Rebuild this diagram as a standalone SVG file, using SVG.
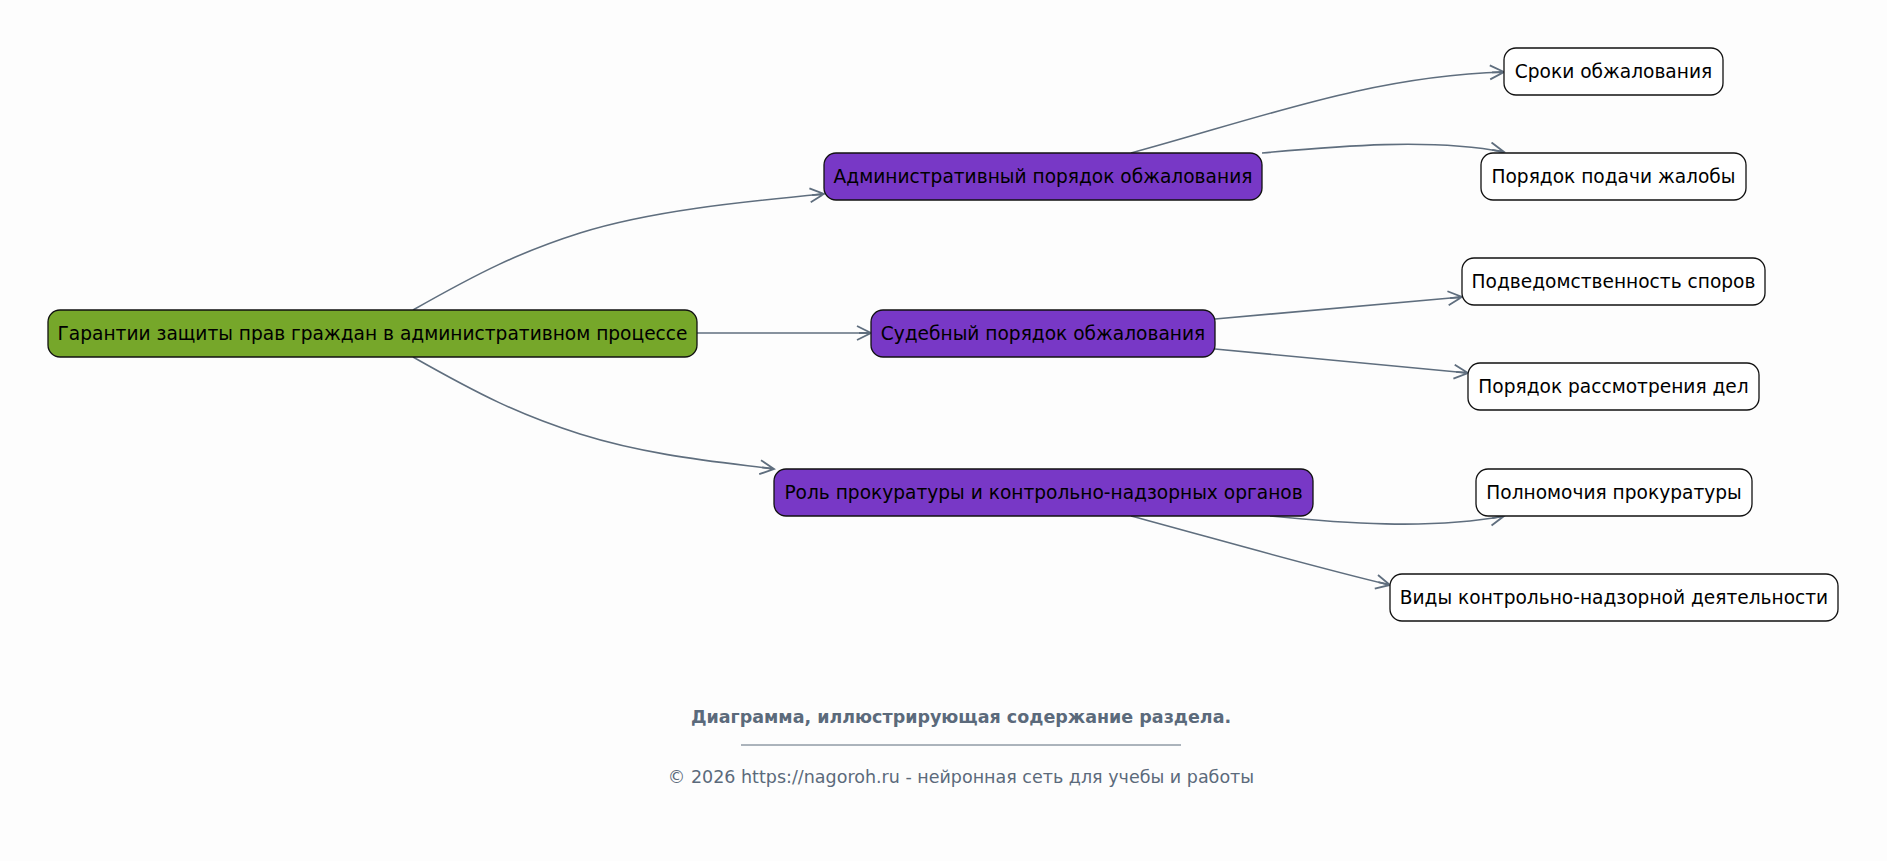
<svg xmlns="http://www.w3.org/2000/svg" width="1887" height="861" viewBox="0 0 1887 861">
<style>
.bg{fill:#fdfdfd}
.n rect{stroke:#111;stroke-width:1.3}
.root rect{fill:#76a72a}
.mid rect{fill:#7838c6}
.leaf rect{fill:#ffffff}
.n text{font-family:"DejaVu Sans",sans-serif;font-size:18.6px;fill:#000;text-anchor:middle;dominant-baseline:central}
.e path{fill:none;stroke:#5f6e7e;stroke-width:1.6;marker-end:url(#arr)}
.ft{font-family:"DejaVu Sans",sans-serif;fill:#5b6a7b;text-anchor:middle}
</style>
<defs>
<marker id="arr" markerWidth="20" markerHeight="20" refX="16" refY="8" orient="auto" markerUnits="userSpaceOnUse">
<path d="M2,1 L16,8 L2,15 M16,8 L4,8" fill="none" stroke="#5f6e7e" stroke-width="1.8"/>
</marker>
</defs>
<rect class="bg" x="0" y="0" width="1887" height="861"/>
<g id="connectors" class="e">
<path d="M413,310 C480,272 520,252 580,233 C650,211 740,202 824,194"/>
<path d="M697,333 L871,333"/>
<path d="M413,357 C480,395 520,415 580,434 C650,456 720,462 774,469"/>
<path d="M1131,153 C1260,118 1370,76 1504,72"/>
<path d="M1262,153 C1340,146 1430,138 1504,152"/>
<path d="M1215,319 L1462,297"/>
<path d="M1215,349 L1468,373"/>
<path d="M1270,516 C1340,523 1430,530 1504,516"/>
<path d="M1131,516 C1220,540 1310,566 1390,585"/>
</g>
<g id="root" class="n root"><rect x="48" y="310" width="649" height="47" rx="12"/><text x="372.5" y="333.5">Гарантии защиты прав граждан в административном процессе</text></g>
<g id="admin" class="n mid"><rect x="824" y="153" width="438" height="47" rx="12"/><text x="1043" y="176.5">Административный порядок обжалования</text></g>
<g id="court" class="n mid"><rect x="871" y="310" width="344" height="47" rx="12"/><text x="1043" y="333.5">Судебный порядок обжалования</text></g>
<g id="prosecutor" class="n mid"><rect x="774" y="469" width="539" height="47" rx="12"/><text x="1043.5" y="492.5">Роль прокуратуры и контрольно-надзорных органов</text></g>
<g id="terms" class="n leaf"><rect x="1504" y="48" width="219" height="47" rx="12"/><text x="1613.5" y="71.5">Сроки обжалования</text></g>
<g id="filing" class="n leaf"><rect x="1481" y="153" width="265" height="47" rx="12"/><text x="1613.5" y="176.5">Порядок подачи жалобы</text></g>
<g id="jurisdiction" class="n leaf"><rect x="1462" y="258" width="303" height="47" rx="12"/><text x="1613.5" y="281.5">Подведомственность споров</text></g>
<g id="procedure" class="n leaf"><rect x="1468" y="363" width="291" height="47" rx="12"/><text x="1613.5" y="386.5">Порядок рассмотрения дел</text></g>
<g id="powers" class="n leaf"><rect x="1476" y="469" width="276" height="47" rx="12"/><text x="1614" y="492.5">Полномочия прокуратуры</text></g>
<g id="kinds" class="n leaf"><rect x="1390" y="574" width="448" height="47" rx="12"/><text x="1614" y="597.5">Виды контрольно-надзорной деятельности</text></g>
<g id="footer">
<text class="ft" x="961" y="723" font-size="17.5" font-weight="bold">Диаграмма, иллюстрирующая содержание раздела.</text>
<line x1="741" y1="745" x2="1181" y2="745" stroke="#5b6a7b" stroke-width="1"/>
<text class="ft" x="961" y="783" font-size="17.5">© 2026 https://nagoroh.ru - нейронная сеть для учебы и работы</text>
</g>
</svg>
